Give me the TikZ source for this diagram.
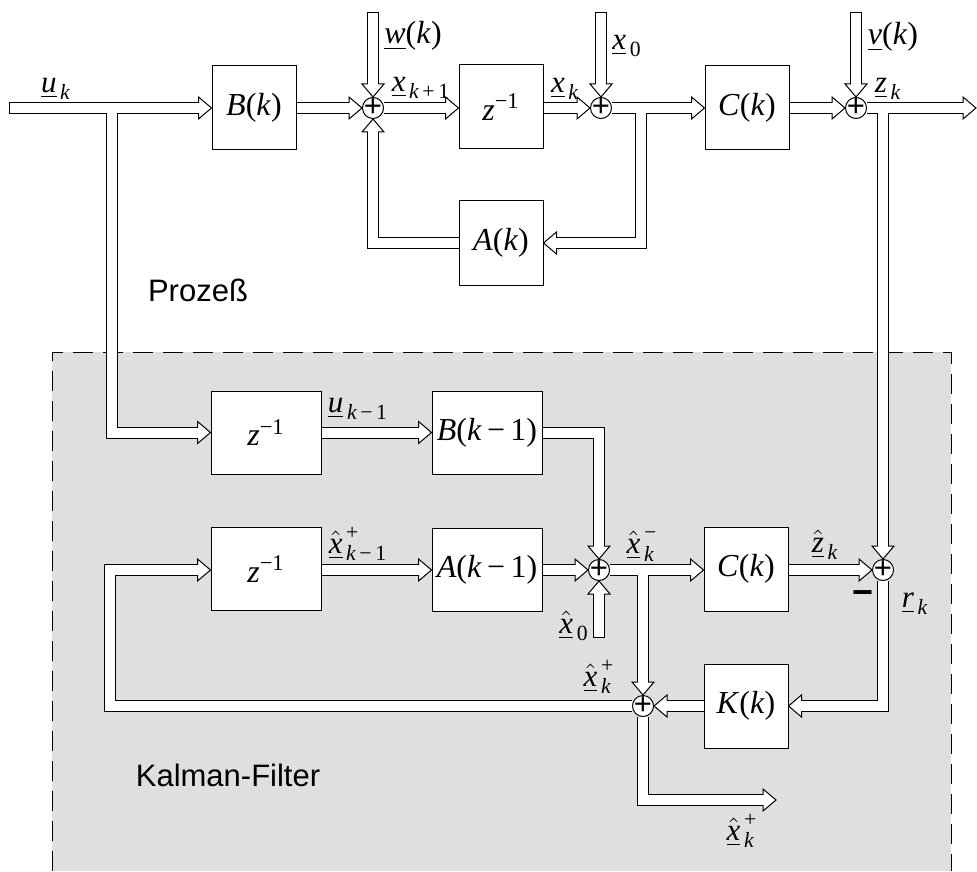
\RequirePackage{fix-cm}
\documentclass[tikz,border=0pt]{standalone}
\usepackage{amsmath}
\usepackage{fontspec}
\setmainfont{Liberation Serif}
\newfontfamily\arialf{Liberation Sans}
\usetikzlibrary{calc}
\definecolor{kfgray}{RGB}{223,223,223}
\pgfdeclarelayer{bgL}
\pgfdeclarelayer{outerL}
\pgfdeclarelayer{headL}
\pgfdeclarelayer{innerL}
\pgfsetlayers{bgL,outerL,headL,innerL,main}
\newcommand\ti[1]{\text{\itshape #1}}
\newcommand\vv[1]{\underline{\ti{#1}}}
\newcommand\vh[1]{\underline{\hat{\ti{#1}}}}
\newcommand\mi{\text{−}}
\newcommand\zinv{$\ti{z}^{\mi\text{1}}$}
\tikzset{
 lw/.style={line width=0.5pt},
 blk/.style={draw, fill=white, lw, inner sep=0, minimum width=42pt, minimum height=42pt, font=\fontsize{16}{16}\selectfont},
 wblk/.style={blk, minimum width=55pt, minimum height=41.5pt},
 sumn/.style={circle, draw, fill=white, lw, inner sep=0, minimum size=10.5pt, label={[inner sep=0, font=\arialf\fontsize{15.5}{15.5}\selectfont]center:+}},
 lbl/.style={inner sep=0, font=\fontsize{15.5}{15.5}\selectfont},
 big/.style={inner sep=0, font=\fontsize{16}{16}\selectfont},
 sans/.style={inner sep=0, font=\arialf\fontsize{15.5}{15.5}\selectfont},
 outerpipe/.style={draw=black, line width=6pt, line join=miter, aend/.style={shorten >=6.5pt}, fstart/.style={}},
 innerpipe/.style={draw=white, line width=5pt, line join=miter, aend/.style={shorten >=6pt}, fstart/.style={shorten <=0.5pt}},
 headsty/.style={draw=black, fill=white, lw, line join=miter},
}
\newcommand\pipe[2][]{%
 \begin{pgfonlayer}{outerL}\draw[outerpipe,#1] #2;\end{pgfonlayer}%
 \begin{pgfonlayer}{innerL}\draw[innerpipe,#1] #2;\end{pgfonlayer}}
\newcommand\ahead[2]{\begin{pgfonlayer}{headL}\draw[headsty, shift={#1}, rotate=#2] (0,0) -- (-13,-11) -- (-13,11) -- cycle;\end{pgfonlayer}}
\begin{document}
\begin{tikzpicture}[x=0.5pt,y=-0.5pt]
\useasboundingbox (0,0) rectangle (977,871);
\begin{pgfonlayer}{bgL}
\fill[kfgray] (52,352) rectangle (951,871);
\draw[lw, dash pattern=on 10pt off 5pt] (52,871) -- (52,352) -- (951,352) -- (951,871);
\end{pgfonlayer}
% blocks
\node[blk] (B) at (254,108) {\textit{B}(\textit{k})};
\node[blk] (Z1) at (501,107) {\zinv};
\node[blk] (C) at (747,108) {\textit{C}(\textit{k})};
\node[blk] (A) at (501,243) {\textit{A}(\textit{k})};
\node[wblk] (Z2) at (266,432.5) {\zinv};
\node[wblk] (B1) at (487,432.5) {\textit{B}(\textit{k}\,−\,1)};
\node[wblk] (Z3) at (266,569) {\zinv};
\node[wblk] (A1) at (487,570) {\textit{A}(\textit{k}\,−\,1)};
\node[blk] (C1) at (746,569) {\textit{C}(\textit{k})};
\node[blk] (K) at (746,706) {\textit{K}(\textit{k})};
% sums
\node[sumn] (s1) at (373,108) {};
\node[sumn] (s2) at (601,108) {};
\node[sumn] (s3) at (856,108) {};
\node[sumn] (s5) at (599,570) {};
\node[sumn] (s4) at (883,570) {};
\node[sumn] (s6) at (643,706) {};
% free points
\coordinate (in) at (9,108);
\coordinate (j1) at (112,108);
\coordinate (wt) at (373,12);
\coordinate (x0t) at (601,12);
\coordinate (vt) at (856,12);
\coordinate (zo) at (976,108);
\coordinate (j2) at (641,108);
\coordinate (x0b) at (599,638);
\coordinate (fbl) at (110,706);
\coordinate (xo) at (776,800);
% connectors
\pipe[aend,fstart]{(in) -- (B.west)}\ahead{(B.west)}{0}
\pipe[aend]{(j1) |- (Z2.west)}\ahead{(Z2.west)}{0}
\pipe[aend]{(B.east) -- (s1.west)}\ahead{(s1.west)}{0}
\pipe[aend,fstart]{(wt) -- (s1.north)}\ahead{(s1.north)}{-90}
\pipe[aend]{(s1.east) -- (Z1.west |- s1)}\ahead{(Z1.west |- s1)}{0}
\pipe[aend]{(Z1.east |- s2) -- (s2.west)}\ahead{(s2.west)}{0}
\pipe[aend,fstart]{(x0t) -- (s2.north)}\ahead{(s2.north)}{-90}
\pipe[aend]{(s2.east) -- (C.west)}\ahead{(C.west)}{0}
\pipe[aend]{(j2) |- (A.east)}\ahead{(A.east)}{180}
\pipe[aend]{(A.west) -| (s1.south)}\ahead{(s1.south)}{90}
\pipe[aend]{(C.east) -- (s3.west)}\ahead{(s3.west)}{0}
\pipe[aend,fstart]{(vt) -- (s3.north)}\ahead{(s3.north)}{-90}
\pipe[aend]{(s3.east) -- (zo)}\ahead{(zo)}{0}
\pipe[aend]{(s4 |- s3) -- (s4.north)}\ahead{(s4.north)}{-90}
\pipe[aend]{(Z2.east) -- (B1.west)}\ahead{(B1.west)}{0}
\pipe[aend]{(B1.east) -| (s5.north)}\ahead{(s5.north)}{-90}
\pipe[aend,fstart]{(x0b) -- (s5.south)}\ahead{(s5.south)}{90}
\pipe[aend]{(Z3.east |- A1) -- (A1.west)}\ahead{(A1.west)}{0}
\pipe[aend]{(A1.east) -- (s5.west)}\ahead{(s5.west)}{0}
\pipe[aend]{(s5.east) -- (C1.west |- s5)}\ahead{(C1.west |- s5)}{0}
\pipe[aend]{(s6 |- s5) -- (s6.north)}\ahead{(s6.north)}{-90}
\pipe[aend]{(C1.east |- s4) -- (s4.west)}\ahead{(s4.west)}{0}
\pipe[aend]{(s4.south) |- (K.east)}\ahead{(K.east)}{180}
\pipe[aend]{(K.west) -- (s6.east)}\ahead{(s6.east)}{180}
\pipe[aend]{(s6.west) -- (fbl) |- (Z3.west |- A1)}\ahead{(Z3.west |- A1)}{0}
\pipe[aend]{(s6.south) |- (xo)}\ahead{(xo)}{0}
% labels
\node[lbl] (lu) at (56,89) {$\vv{u}_{\,\ti{k}}$};
\node[big] (lw) at (413,36) {\underline{\textit{w}}(\textit{k})};
\node[lbl] (lx1) at (421,88) {$\vv{x}_{\,\ti{k}\,\text{+}\,\text{1}}$};
\node[lbl] (lxk) at (565,89) {$\vv{x}_{\,\ti{k}}$};
\node[lbl] (lx0) at (627,46) {$\vv{x}_{\,\text{0}}$};
\node[big] (lv) at (893,37) {\underline{\textit{v}}(\textit{k})};
\node[lbl] (lz) at (888,89) {$\vv{z}_{\,\ti{k}}$};
\node[sans] (lp) at (198,290) {Prozeß};
\node[lbl] (luk1) at (358,409) {$\vv{u}_{\,\ti{k}\,\mi\,\text{1}}$};
\node[lbl] (lxh1) at (358,544) {$\vh{x}^{\,\text{+}}_{\,\ti{k}\,\mi\,\text{1}}$};
\node[lbl] (lxm) at (642,546) {$\vh{x}^{\,\mi}_{\,\ti{k}}$};
\node[lbl] (lzh) at (825,545) {$\vh{z}_{\,\ti{k}}$};
\node[lbl] (lx0h) at (574,626) {$\vh{x}_{\,\text{0}}$};
\node[inner sep=0, font=\arialf\bfseries\fontsize{18}{18}\selectfont] (lmin) at (863,598) {−};
\node[lbl] (lr) at (915,604) {$\vv{r}_{\,\ti{k}}$};
\node[lbl] (lxp) at (599,677) {$\vh{x}^{\,\text{+}}_{\,\ti{k}}$};
\node[lbl] (lxp2) at (742,831) {$\vh{x}^{\,\text{+}}_{\,\ti{k}}$};
\node[sans] (lkf) at (228,775) {Kalman-Filter};
\end{tikzpicture}
\end{document}
